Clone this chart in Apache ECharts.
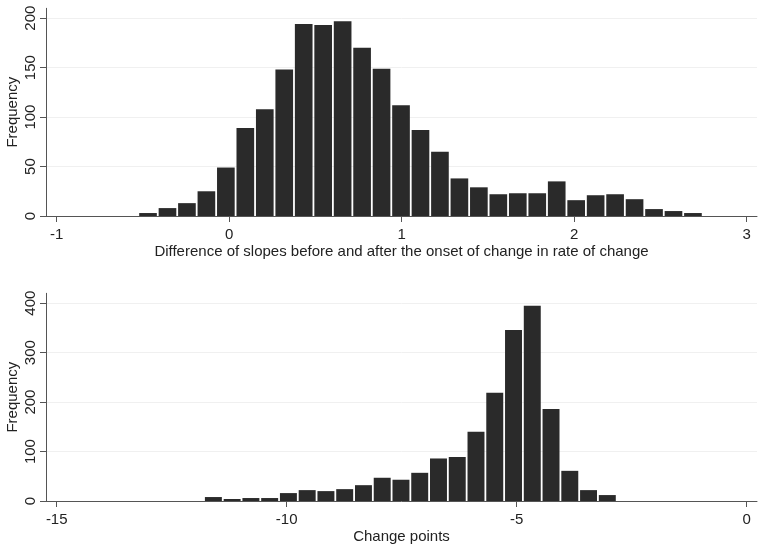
<!DOCTYPE html>
<html>
<head>
<meta charset="utf-8">
<script src="https://cdn.jsdelivr.net/npm/echarts@6/dist/echarts.min.js"></script>
<style>html,body{margin:0;padding:0;background:#fff}#c{width:764px;height:550px}</style>
</head>
<body>
<div id="c"></div>
<script>
// Top histogram: difference of slopes
const topBinStart = -0.527;
const topBinWidth = 0.11283;
const topCounts = [3, 8, 13, 25, 49, 89, 108, 148, 194, 193, 197, 170, 149, 112, 87, 65, 38, 29, 22, 23, 23, 35, 16, 21, 22, 17, 7, 5, 3];
const topXTicks = [-1, 0, 1, 2, 3];
const topYTicks = [0, 50, 100, 150, 200];

// Bottom histogram: change points
const botBinStart = -11.798;
const botBinWidth = 0.4078;
const botCounts = [8, 4, 6, 6, 16, 22, 20, 24, 32, 47, 43, 57, 86, 89, 140, 219, 346, 395, 186, 61, 22, 12];
const botXTicks = [-15, -10, -5, 0];
const botYTicks = [0, 100, 200, 300, 400];

function bins(start, width, counts) {
  return counts.map((c, i) => [start + i * width, start + (i + 1) * width, c]);
}

const FONT = 'Liberation Sans, Arial, sans-serif';
const FS = 15;
const TXT = '#222';
const AX = '#555';

function renderBar(params, api) {
  const p0 = api.coord([api.value(0), api.value(2)]);
  const p1 = api.coord([api.value(1), 0]);
  const inset = 0.9;
  return {
    type: 'rect',
    shape: { x: p0[0] + inset, y: p0[1], width: p1[0] - p0[0] - 2 * inset, height: p1[1] - p0[1] },
    style: { fill: '#2a2a2a' }
  };
}

function xAxisCfg(idx, min, max, ticks, name) {
  return {
    type: 'value', gridIndex: idx, min: min, max: max,
    name: name, nameLocation: 'middle', nameGap: 28, nameMoveOverlap: false,
    nameTextStyle: { fontFamily: FONT, fontSize: FS, color: TXT },
    axisLine: { show: true, onZero: false, lineStyle: { color: AX, width: 1 } },
    axisTick: { show: true, length: 6, lineStyle: { color: AX }, customValues: ticks },
    axisLabel: { margin: 11, fontFamily: FONT, fontSize: FS, color: TXT, customValues: ticks },
    splitLine: { show: false }
  };
}
function yAxisCfg(idx, max, ticks) {
  return {
    type: 'value', gridIndex: idx, min: 0, max: max,
    name: 'Frequency', nameLocation: 'middle', nameGap: 26, nameRotate: 90, nameMoveOverlap: false,
    nameTextStyle: { fontFamily: FONT, fontSize: FS, color: TXT },
    axisLine: { show: true, onZero: false, lineStyle: { color: AX, width: 1 } },
    axisTick: { show: true, length: 6, lineStyle: { color: AX }, customValues: ticks },
    axisLabel: { rotate: 90, margin: 8, fontFamily: FONT, fontSize: FS, color: TXT, customValues: ticks },
    splitLine: { show: true, lineStyle: { color: '#f0f0f0', width: 1 } },
    interval: ticks[1] - ticks[0]
  };
}

const chart = echarts.init(document.getElementById('c'), null, { renderer: 'canvas' });
chart.setOption({
  backgroundColor: '#fff',
  animation: false,
  grid: [
    { left: 46, right: 7, top: 8.3, height: 207.7, containLabel: false, outerBoundsMode: 'none' },
    { left: 46, right: 7, top: 293.3, height: 207.7, containLabel: false, outerBoundsMode: 'none' }
  ],
  xAxis: [
    xAxisCfg(0, -1.062, 3.060, topXTicks, 'Difference of slopes before and after the onset of change in rate of change'),
    xAxisCfg(1, -15.233, 0.224, botXTicks, 'Change points')
  ],
  yAxis: [
    yAxisCfg(0, 210, topYTicks),
    yAxisCfg(1, 420, botYTicks)
  ],
  series: [
    { type: 'custom', xAxisIndex: 0, yAxisIndex: 0, renderItem: renderBar, data: bins(topBinStart, topBinWidth, topCounts), encode: { x: [0, 1], y: 2 } },
    { type: 'custom', xAxisIndex: 1, yAxisIndex: 1, renderItem: renderBar, data: bins(botBinStart, botBinWidth, botCounts), encode: { x: [0, 1], y: 2 } }
  ]
});
</script>
</body>
</html>
